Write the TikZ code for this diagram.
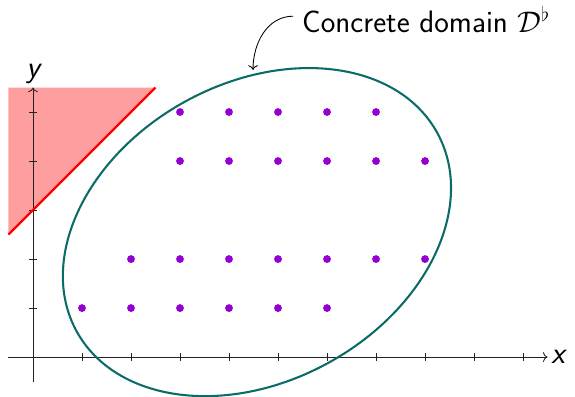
\documentclass[tikz,border=0pt]{standalone}
\usepackage{amssymb}
\usetikzlibrary{arrows.meta,positioning,calc}
\definecolor{domainline}{HTML}{0B6B66}
\definecolor{pointcol}{HTML}{9400D3}
\definecolor{badfill}{HTML}{FF9E9E}
\definecolor{axisline}{HTML}{222222}

\begin{document}
\begin{tikzpicture}[
 font=\sffamily\fontsize{18}{21}\selectfont,
 axis/.style={->,axisline,line width=0.5pt},
 tick/.style={axisline,line width=0.5pt},
 pt/.style={fill=pointcol},
 lbl/.style={inner sep=2pt}]
\useasboundingbox (-0.673,-0.796) rectangle (11.06,7.286);
% forbidden zone
\fill[badfill] (-0.5,2.5) -- (2.5,5.5) -- (-0.5,5.5) -- cycle;
% axes
\draw[axis] (-0.5,0) -- (10.5,0) coordinate (xend);
\draw[axis] (0,-0.5) -- (0,5.5) coordinate (yend);
\foreach \i in {1,...,10} \draw[tick] (\i,0.08) -- (\i,-0.08);
\foreach \j in {1,...,5} \draw[tick] (0.08,\j) -- (-0.08,\j);
\node[lbl,anchor=west] (xl) at (10.5,0) {\itshape x};
\node[lbl,anchor=south] (yl) at (0,5.5) {\itshape y};
\draw[red,line width=1.3pt] (-0.5,2.5) -- (2.5,5.5);
% domain
\draw[domainline,line width=1.2pt,rotate around={28.9:(4.57,2.55)}]
  (4.57,2.55) ellipse (4.2cm and 3.04cm);
\foreach \x in {1,...,6} \fill[pt] (\x,1) circle (0.08);
\foreach \x in {2,...,8} \fill[pt] (\x,2) circle (0.08);
\foreach \x in {3,...,8} \fill[pt] (\x,4) circle (0.08);
\foreach \x in {3,...,7} \fill[pt] (\x,5) circle (0.08);
\node[lbl,inner xsep=5pt,anchor=base west] (dom) at (5.31,6.63) {Concrete domain $\mathcal{D}^\flat$};
\coordinate (domtop) at (4.49,5.86);
\draw[->,line width=0.5pt] ($(dom.west)+(0,0.06)$) to[out=180,in=90] (domtop);
\end{tikzpicture}
\end{document}
